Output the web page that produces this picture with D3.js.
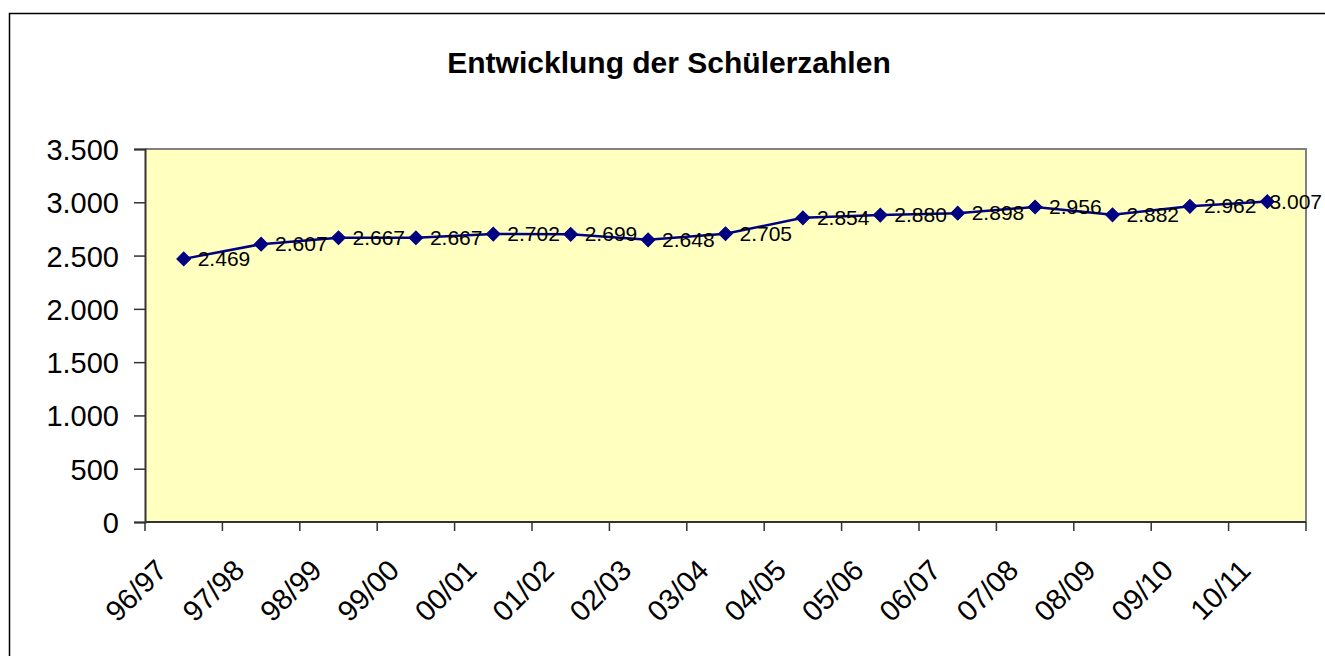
<!DOCTYPE html>
<html>
<head>
<meta charset="utf-8">
<script src="https://cdn.jsdelivr.net/npm/d3@7"></script>
<style>
  html, body { margin: 0; padding: 0; background: #fff; }
  svg { display: block; }
  text { font-family: "Liberation Sans", Arial, sans-serif; fill: #000; }
</style>
</head>
<body>
<svg id="chart" width="1325" height="656"></svg>
<script>
const title = "Entwicklung der Schülerzahlen";
const categories = ["96/97","97/98","98/99","99/00","00/01","01/02","02/03","03/04","04/05","05/06","06/07","07/08","08/09","09/10","10/11"];
const values = [2469, 2607, 2667, 2667, 2702, 2699, 2648, 2705, 2854, 2880, 2898, 2956, 2882, 2962, 3007];
const yTicks = [0, 500, 1000, 1500, 2000, 2500, 3000, 3500];

const de = d3.formatLocale({decimal: ",", thousands: ".", grouping: [3], currency: ["", " €"]});
const fmt = de.format(",");

const svg = d3.select("#chart");
const plot = {left: 145, right: 1306, top: 149, bottom: 522};
const chartRight = 1322;

// outer chart border
svg.append("rect")
  .attr("x", 9.5).attr("y", 13.5)
  .attr("width", 1330).attr("height", 700)
  .attr("fill", "#fff").attr("stroke", "#000").attr("stroke-width", 1.5);

// title
svg.append("text")
  .attr("x", 669).attr("y", 73)
  .attr("text-anchor", "middle")
  .style("font-size", "30px").style("font-weight", "bold")
  .text(title);

const x = d3.scaleBand().domain(categories).range([plot.left, plot.right]).padding(0);
const y = d3.scaleLinear().domain([0, 3500]).range([plot.bottom, plot.top]);
const cx = d => x(d) + x.bandwidth() / 2;

// plot area
svg.append("rect")
  .attr("x", plot.left).attr("y", plot.top)
  .attr("width", plot.right - plot.left).attr("height", plot.bottom - plot.top)
  .attr("fill", "#FFFFC0");
// top and right border (grey)
svg.append("path")
  .attr("d", `M${plot.left},${plot.top}H${plot.right}V${plot.bottom}`)
  .attr("fill", "none").attr("stroke", "#808080").attr("stroke-width", 2);

// y axis
const yAxis = d3.axisLeft(y).tickValues(yTicks).tickFormat(fmt).tickSize(11).tickPadding(15);
const gy = svg.append("g").attr("transform", `translate(${plot.left},0)`).call(yAxis);
gy.select(".domain").attr("stroke", "#333").attr("stroke-width", 2);
gy.selectAll(".tick line").attr("stroke", "#333").attr("stroke-width", 1.5);
gy.selectAll(".tick text")
  .style("font-family", "'Liberation Sans', Arial, sans-serif")
  .style("font-size", "29px").attr("fill", "#000").attr("dy", "0.36em");

// x axis baseline
svg.append("line")
  .attr("x1", plot.left).attr("x2", plot.right)
  .attr("y1", plot.bottom).attr("y2", plot.bottom)
  .attr("stroke", "#333").attr("stroke-width", 2);
// x ticks at category boundaries
const bounds = categories.map(c => x(c)).concat([x.range()[1]]);
svg.append("g").selectAll("line").data(bounds).join("line")
  .attr("x1", d => d).attr("x2", d => d)
  .attr("y1", plot.bottom).attr("y2", plot.bottom + 9)
  .attr("stroke", "#333").attr("stroke-width", 1.5);
// x labels, rotated
svg.append("g").selectAll("text").data(categories).join("text")
  .attr("transform", d => `translate(${cx(d) - 15},${plot.bottom + 50}) rotate(-45)`)
  .attr("text-anchor", "end")
  .style("font-size", "29px")
  .text(d => d);

// line
const line = d3.line().x((d, i) => cx(categories[i])).y(d => y(d));
svg.append("path")
  .datum(values)
  .attr("d", line)
  .attr("fill", "none").attr("stroke", "#000080").attr("stroke-width", 2.5);

// diamond markers
svg.append("g").selectAll("path").data(values).join("path")
  .attr("transform", (d, i) => `translate(${cx(categories[i])},${y(d)}) rotate(45)`)
  .attr("d", d3.symbol().type(d3.symbolSquare).size(95))
  .attr("fill", "#000080").attr("stroke", "#000080").attr("stroke-width", 1);

// data labels (kept inside the chart area)
svg.append("g").selectAll("text").data(values).join("text")
  .attr("x", (d, i) => cx(categories[i]) + 14)
  .attr("y", d => y(d) + 7)
  .style("font-size", "21px")
  .text(d => fmt(d))
  .each(function() {
    const w = this.getComputedTextLength();
    const x0 = +this.getAttribute("x");
    if (x0 + w > chartRight) this.setAttribute("x", chartRight - w);
  });
</script>
</body>
</html>
